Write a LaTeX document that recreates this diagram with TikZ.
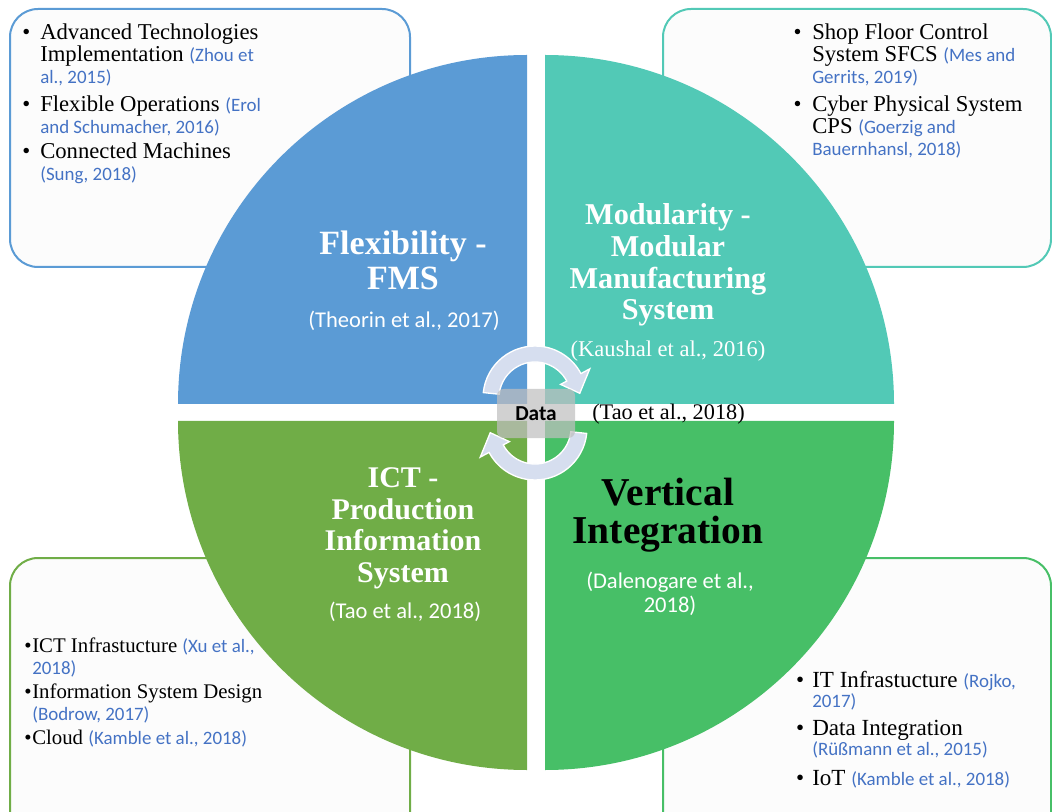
\documentclass[tikz,border=0pt]{standalone}
\usepackage{fontspec}
\setmainfont{Liberation Serif}
\newfontfamily\carl{Carlito}
\definecolor{qblue}{HTML}{5B9BD5}
\definecolor{qteal}{HTML}{52C9B6}
\definecolor{qolive}{HTML}{70AD47}
\definecolor{qgreen}{HTML}{47BF67}
\definecolor{citblue}{HTML}{4472C4}
\definecolor{arrowfill}{HTML}{D6DEEF}
\definecolor{boxfill}{HTML}{FCFCFC}
\newcommand{\cit}[1]{{\carl\fontsize{14.2}{16}\selectfont\color{citblue}#1}}
\newcommand{\bul}[1]{\llap{\textbullet\hspace{#1}}}
\tikzset{
  infobox/.style={rounded corners=21pt, line width=1.5pt, fill=boxfill},
  listitem/.style={anchor=base west, inner sep=0pt, align=left},
  title/.style={anchor=base, inner sep=0pt, align=center, text=white},
  ccit/.style={anchor=base, inner sep=0pt, align=center, text=white, font=\carl\fontsize{16.9}{18}\selectfont},
  arrowshape/.style={fill=arrowfill, draw=white, line width=1pt},
  databox/.style={rounded corners=5pt, fill=black!25, fill opacity=0.72, text opacity=1,
    minimum width=58.5pt, minimum height=36.75pt, inner sep=0pt, font=\carl\bfseries\fontsize{16}{18}\selectfont},
}
\begin{document}
\begin{tikzpicture}[x=0.75pt,y=-0.75pt]
\useasboundingbox (0,0) rectangle (1052,812);
\clip (0,0) rectangle (1052,812);
% side boxes
\draw[infobox, draw=qblue]  (10,9) rectangle (410,267);
\draw[infobox, draw=qteal]  (663,9) rectangle (1051,267);
\draw[infobox, draw=qolive] (10,558) rectangle (410,850);
\draw[infobox, draw=qgreen] (663,558) rectangle (1051,850);
% quadrants
\fill[qblue]  (527,404) -- (178,404) arc[start angle=180, end angle=270, radius=349] -- cycle;
\fill[qteal]  (545,404) -- (545,55) arc[start angle=270, end angle=360, radius=349] -- cycle;
\fill[qolive] (527,421) -- (178,421) arc[start angle=180, end angle=90, radius=349] -- cycle;
\fill[qgreen] (545,421) -- (894,421) arc[start angle=0, end angle=90, radius=349] -- cycle;
% cycle arrows
\begin{scope}[shift={(535,398)}]
\path[arrowshape] (186:52) arc[start angle=186, end angle=332, radius=52] -- (332:62) -- (354:45) -- (332:29) -- (332:36) arc[start angle=332, end angle=186, radius=36] -- cycle;
\end{scope}
\begin{scope}[shift={(535,428)}]
\path[arrowshape] (6:52) arc[start angle=6, end angle=152, radius=52] -- (152:62) -- (174:45) -- (152:29) -- (152:36) arc[start angle=152, end angle=6, radius=36] -- cycle;
\end{scope}
\node[databox] (data) at (536,413.5) {Data};
\node[anchor=base west, inner sep=0pt, font=\fontsize{16.7}{18}\selectfont] (tao) at (592,420) {(Tao et al., 2018)};
% titles (base anchor = baseline of last line)
\node[title, font=\bfseries\fontsize{25.5}{26.3}\selectfont] (flex) at (403,290) {Flexibility -\\FMS};
\node[ccit] (flexc) at (404,328) {(Theorin et al., 2017)};
\node[title, font=\bfseries\fontsize{22.7}{23.8}\selectfont] (modu) at (668,320) {Modularity -\\Modular\\Manufacturing\\System};
\node[title, font=\fontsize{16.9}{18}\selectfont] (modc) at (668,357) {(Kaushal et al., 2016)};
\node[title, font=\bfseries\fontsize{22.5}{23.6}\selectfont] (ict) at (403,582) {ICT -\\Production\\Information\\System};
\node[ccit] (ictc) at (405,618) {(Tao et al., 2018)};
\node[title, text=black, font=\bfseries\fontsize{29.6}{28.5}\selectfont] (vert) at (668,543) {Vertical\\Integration};
\node[ccit, font=\carl\fontsize{16.9}{18}\selectfont] (vertc) at (670,612) {(Dalenogare et al.,\\2018)};
% top lists
\begin{scope}[every node/.style={listitem, font=\fontsize{17}{16.5}\selectfont}]
\node (tl1) at (40,84) {\bul{7.5pt}Advanced Technologies\\Implementation \cit{(Zhou et}\\\cit{al., 2015)}};
\node (tl2) at (40,134) {\bul{7.5pt}Flexible Operations \cit{(Erol}\\\cit{and Schumacher, 2016)}};
\node (tl3) at (40,181) {\bul{7.5pt}Connected Machines\\\cit{(Sung, 2018)}};
\node (tr1) at (812,84) {\bul{8pt}Shop Floor Control\\System SFCS \cit{(Mes and}\\\cit{Gerrits, 2019)}};
\node (tr2) at (812,156) {\bul{8pt}Cyber Physical System\\CPS \cit{(Goerzig and}\\\cit{Bauernhansl, 2018)}};
\end{scope}
\begin{scope}[every node/.style={listitem, font=\fontsize{15.6}{16.5}\selectfont}]
\node (bl1) at (32,674) {\bul{0.5pt}ICT Infrastucture \cit{(Xu et al.,}\\\cit{2018)}};
\node (bl2) at (32,720) {\bul{0.5pt}Information System Design\\\cit{(Bodrow, 2017)}};
\node (bl3) at (32,744) {\bul{0.5pt}Cloud \cit{(Kamble et al., 2018)}};
\end{scope}
\begin{scope}[every node/.style={listitem, font=\fontsize{17.3}{15}\selectfont}]
\node (br1) at (812,707) {\bul{6pt}IT Infrastucture \cit{(Rojko,}\\\cit{2017)}};
\node (br2) at (812,755) {\bul{6pt}Data Integration\\\cit{(Rüßmann et al., 2015)}};
\node (br3) at (812,785) {\bul{6pt}IoT \cit{(Kamble et al., 2018)}};
\end{scope}
\end{tikzpicture}
\end{document}
